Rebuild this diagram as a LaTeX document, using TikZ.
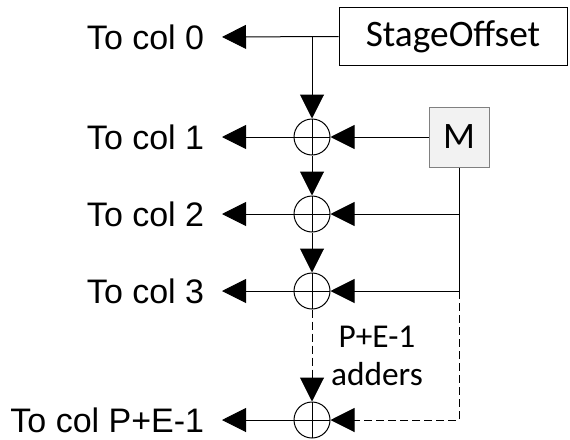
\documentclass[tikz,border=0pt]{standalone}
\usepackage{fontspec}
\setmainfont{Carlito}
\newfontfamily\labelfont{Liberation Sans}
\usetikzlibrary{arrows.meta,positioning}

\tikzset{
    adder/.style={circle, draw, minimum size=27pt, inner sep=0pt,
        path picture={\draw (path picture bounding box.north) -- (path picture bounding box.south)
            (path picture bounding box.west) -- (path picture bounding box.east);}},
    collabel/.style={anchor=east, font=\labelfont\fontsize{25.5}{30}\selectfont,
        inner xsep=13pt, inner ysep=0pt},
    sig/.style={-{Triangle[length=18pt, width=18pt]}},
    gap/.style={dash pattern=on 6pt off 3pt}
}

\begin{document}
\begin{tikzpicture}[x=0.75pt, y=-0.75pt, line width=0.75pt]
    \useasboundingbox (0,0) rectangle (570,439);

    % 1. Offset source and multiplier input
    \node[draw, minimum width=171pt, minimum height=44pt, font=\fontsize{28}{33}\selectfont] (so) at (453,36.5) {StageOffset};
    \node[draw=gray, fill=gray!10, minimum size=45pt, font=\fontsize{28}{33}\selectfont] (m) at (459,137) {M};

    % 2. The adder chain
    \node[adder] (a1) at (312,137) {};
    \node[adder] (a2) at (312,214) {};
    \node[adder] (a3) at (312,291) {};
    \node[adder] (aN) at (312,420) {};
    \node[align=center, font=\fontsize{25}{29}\selectfont] (cnt) at (377,356) {P+E-1\\adders};

    % 3. Outputs to the columns
    \node[collabel] (t0) at (222,37) {To col 0};
    \node[collabel] (t1) at (222,137) {To col 1};
    \node[collabel] (t2) at (222,214) {To col 2};
    \node[collabel] (t3) at (222,291) {To col 3};
    \node[collabel] (tN) at (222,420) {To col P+E-1};

    % 4. Connections
    \coordinate (j0) at (a1 |- so.west);
    \draw[sig] (so.west) -- (t0.east);
    \draw[sig] (j0) -- (a1.north);
    \draw[sig] (a1.south) -- (a2.north);
    \draw[sig] (a2.south) -- (a3.north);
    \draw[sig, gap] (a3.south) -- (aN.north);
    \draw[sig] (a1.west) -- (t1.east);
    \draw[sig] (a2.west) -- (t2.east);
    \draw[sig] (a3.west) -- (t3.east);
    \draw[sig] (aN.west) -- (tN.east);

    % 5. M fed to every adder
    \coordinate (m2) at (m.south |- a2.east);
    \coordinate (m3) at (m.south |- a3.east);
    \coordinate (mN) at (m.south |- aN.east);
    \draw[sig] (m.west) -- (a1.east);
    \draw (m.south) -- (m3);
    \draw[sig] (m2) -- (a2.east);
    \draw[sig] (m3) -- (a3.east);
    \draw[sig, gap] (m3) -- (mN) -- (aN.east);
\end{tikzpicture}
\end{document}
